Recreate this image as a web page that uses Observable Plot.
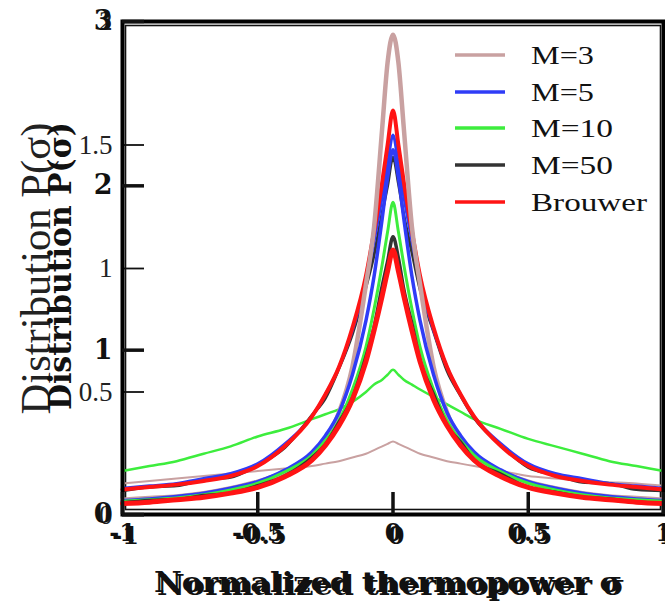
<!DOCTYPE html>
<html><head><meta charset="utf-8">
<script src="https://cdn.jsdelivr.net/npm/d3@7"></script>
<script src="https://cdn.jsdelivr.net/npm/@observablehq/plot@0.6"></script>
<style>
html,body{margin:0;padding:0;background:#fff;}
#wrap{position:relative;width:665px;height:603px;overflow:hidden;background:#fff;}
#wrap > svg{position:absolute;left:0;top:0;margin:0;}
</style></head><body><div id="wrap"></div>
<script>
// ---- data ----
const SIG = [-1,-0.9,-0.8,-0.7,-0.6,-0.5,-0.4,-0.3,-0.25,-0.2,-0.15,-0.1,-0.07,-0.04,-0.02,0,0.02,0.04,0.07,0.1,0.15,0.2,0.25,0.3,0.4,0.5,0.6,0.7,0.8,0.9,1];

// panel with bold axes, y from 0 to 3
const M3_A  = [0.09,0.10,0.11,0.13,0.16,0.20,0.26,0.36,0.45,0.62,0.90,1.40,1.75,2.35,2.75,2.92,2.75,2.35,1.75,1.40,0.90,0.62,0.45,0.36,0.26,0.20,0.16,0.13,0.11,0.10,0.09];
const M5_A  = [0.085,0.095,0.11,0.13,0.16,0.20,0.27,0.38,0.48,0.62,0.85,1.18,1.45,1.80,2.05,2.22,2.05,1.80,1.45,1.18,0.85,0.62,0.48,0.38,0.27,0.20,0.16,0.13,0.11,0.095,0.085];
const M10_A = [0.08,0.09,0.10,0.12,0.15,0.19,0.26,0.36,0.45,0.57,0.76,1.02,1.25,1.52,1.72,1.90,1.72,1.52,1.25,1.02,0.76,0.57,0.45,0.36,0.26,0.19,0.15,0.12,0.10,0.09,0.08];
const M50_A = [0.07,0.085,0.09,0.115,0.13,0.175,0.235,0.345,0.425,0.56,0.71,0.96,1.14,1.39,1.54,1.69,1.56,1.37,1.16,0.94,0.73,0.54,0.44,0.33,0.245,0.165,0.135,0.105,0.095,0.075,0.07];
const BR_A  = [0.067,0.075,0.09,0.105,0.13,0.165,0.23,0.33,0.42,0.54,0.70,0.93,1.12,1.33,1.48,1.61,1.48,1.33,1.12,0.93,0.70,0.54,0.42,0.33,0.23,0.165,0.13,0.105,0.09,0.075,0.067];

// panel with thin axes, y from 0 to 2
const M3_B  = [0.13,0.14,0.15,0.16,0.17,0.18,0.19,0.20,0.21,0.22,0.235,0.25,0.265,0.28,0.29,0.30,0.29,0.28,0.265,0.25,0.235,0.22,0.21,0.20,0.18,0.16,0.15,0.14,0.135,0.13,0.12];
const M5_B  = [0.11,0.12,0.13,0.15,0.17,0.21,0.29,0.40,0.49,0.60,0.75,0.95,1.11,1.29,1.42,1.54,1.42,1.29,1.11,0.95,0.75,0.60,0.49,0.40,0.29,0.21,0.17,0.15,0.13,0.12,0.11];
const M10_B = [0.18,0.20,0.22,0.25,0.28,0.32,0.35,0.39,0.41,0.43,0.46,0.50,0.53,0.55,0.57,0.59,0.57,0.55,0.53,0.51,0.48,0.45,0.42,0.39,0.35,0.31,0.28,0.25,0.22,0.20,0.18];
const M50_B = [0.10,0.115,0.12,0.145,0.155,0.205,0.275,0.405,0.475,0.595,0.735,0.925,1.055,1.225,1.335,1.45,1.345,1.215,1.065,0.915,0.745,0.585,0.485,0.395,0.285,0.195,0.165,0.135,0.13,0.105,0.10];
const BR_B  = [0.105,0.115,0.125,0.14,0.16,0.20,0.28,0.40,0.49,0.60,0.76,0.97,1.15,1.35,1.50,1.64,1.50,1.35,1.15,0.97,0.76,0.60,0.49,0.40,0.28,0.20,0.16,0.14,0.125,0.115,0.105];

const SERIES = ["M=3","M=5","M=10","M=50","Brouwer"];
const COLORS = ["#c9a1a1","#2f3cf7","#3ded3d","#333333","#ff1414"];
const X_TICKS = [-1,-0.5,0,0.5,1];
const Y_TICKS_A = [0,1,2,3];
const Y_TICKS_B = [0,0.5,1,1.5,2];
const X_TITLE = "Normalized thermopower σ";
const Y_TITLE = "Distribution P(σ)";

// ---- drawing ----
const serif = "'Liberation Serif','Times New Roman',serif";
const slab = "'DejaVu Serif',serif";
const rows = (vals, name) => SIG.map((x, i) => ({x, y: vals[i], name}));
const common = {width: 665, height: 603, marginLeft: 122, marginRight: 2, x: {domain: [-1, 1]},
  style: {background: "transparent", overflow: "visible", color: "#111"}};
const line = (vals, k, w) => Plot.line(rows(vals, SERIES[k]), {x: "x", y: "y", stroke: COLORS[k], strokeWidth: w, curve: "monotone-x"});

const chartB = Plot.plot({
  ...common, marginTop: 21, marginBottom: 88,
  y: {domain: [0, 2]},
  marks: [
    Plot.frame({stroke: "#111", strokeWidth: 1.6, insetTop: 4, insetBottom: 6, insetLeft: 3, insetRight: 3}),
    line(M3_B, 0, 2),
    line(M10_B, 2, 2.5),
    line(M50_B, 3, 3),
    line(M5_B, 1, 3),
    line(BR_B, 4, 4),
    Plot.axisY({ticks: Y_TICKS_B, tickSize: -22, strokeWidth: 1.8, tickFormat: () => "", label: null}),
    Plot.axisY({ticks: Y_TICKS_B, tickSize: 0, tickPadding: 10, tickFormat: d => String(d), fontSize: 27, fontFamily: serif, fill: "#222", label: null}),
    Plot.axisX({ticks: X_TICKS, tickSize: -18, strokeWidth: 2, tickFormat: () => "", label: null}),
    Plot.axisX({ticks: X_TICKS, tickSize: 0, tickPadding: 9, dx: 3, dy: 2, tickFormat: d => String(d), fontSize: 24, fontWeight: "bold", fontFamily: slab, label: null}),
    Plot.text([Y_TITLE], {frameAnchor: "left", textAnchor: "middle", lineAnchor: "middle", rotate: -90, dx: -86, fontSize: 42, fontFamily: serif, fill: "#222", text: d => d}),
    Plot.text([X_TITLE], {frameAnchor: "bottom", textAnchor: "middle", lineAnchor: "middle", dx: -2, dy: 71, fontSize: 28, fontWeight: "bold", fontFamily: slab, text: d => d})
  ]
});

const chartA = Plot.plot({
  ...common, marginTop: 21, marginBottom: 89,
  y: {domain: [0, 3]},
  marks: [
    Plot.frame({stroke: "#000", strokeWidth: 4}),
    line(M3_A, 0, 4.5),
    line(M5_A, 1, 3.5),
    line(M10_A, 2, 3),
    line(M50_A, 3, 3.5),
    line(BR_A, 4, 5),
    Plot.axisY({ticks: Y_TICKS_A, tickSize: -22, strokeWidth: 3.5, tickFormat: () => "", label: null}),
    Plot.axisY({ticks: Y_TICKS_A, tickSize: 0, tickPadding: 10, tickFormat: d => String(d), fontSize: 27, fontWeight: "bold", fontFamily: slab, label: null}),
    Plot.axisX({ticks: X_TICKS, tickSize: -22, strokeWidth: 3.5, tickFormat: () => "", label: null}),
    Plot.axisX({ticks: X_TICKS, tickSize: 0, tickPadding: 9, tickFormat: d => String(d), fontSize: 24, fontWeight: "bold", fontFamily: slab, label: null}),
    Plot.text([Y_TITLE], {frameAnchor: "left", textAnchor: "middle", lineAnchor: "middle", rotate: -90, dx: -62, dy: -2, fontSize: 32, fontWeight: "bold", fontFamily: slab, text: d => d}),
    Plot.text([X_TITLE], {frameAnchor: "bottom", textAnchor: "middle", lineAnchor: "middle", dx: -5, dy: 69, fontSize: 28, fontWeight: "bold", fontFamily: slab, text: d => d})
  ]
});

const wrap = document.getElementById("wrap");
wrap.appendChild(chartB);
wrap.appendChild(chartA);

function fitText(svg, content, len) {
  d3.select(svg).selectAll("text")
    .filter(function () { return this.textContent === content; })
    .attr("textLength", len).attr("lengthAdjust", "spacingAndGlyphs");
}
fitText(chartB, X_TITLE, 468);
fitText(chartA, X_TITLE, 468);
fitText(chartB, Y_TITLE, 292);
fitText(chartA, Y_TITLE, 288);

// legend (inside the plot, top right)
const LEGEND_Y = [55, 92, 128, 165, 202];
const LEGEND_W = [63, 63, 82, 82, 116];
const leg = d3.select(wrap).append("svg").attr("width", 665).attr("height", 603);
SERIES.forEach((name, i) => {
  leg.append("line").attr("x1", 455).attr("x2", 505).attr("y1", LEGEND_Y[i]).attr("y2", LEGEND_Y[i])
    .attr("stroke", COLORS[i]).attr("stroke-width", 3.5);
  leg.append("text").attr("x", 531).attr("y", LEGEND_Y[i] + 9).text(name)
    .attr("font-family", serif).attr("font-size", 26).attr("fill", "#111")
    .attr("textLength", LEGEND_W[i]).attr("lengthAdjust", "spacingAndGlyphs");
});
</script></body></html>
